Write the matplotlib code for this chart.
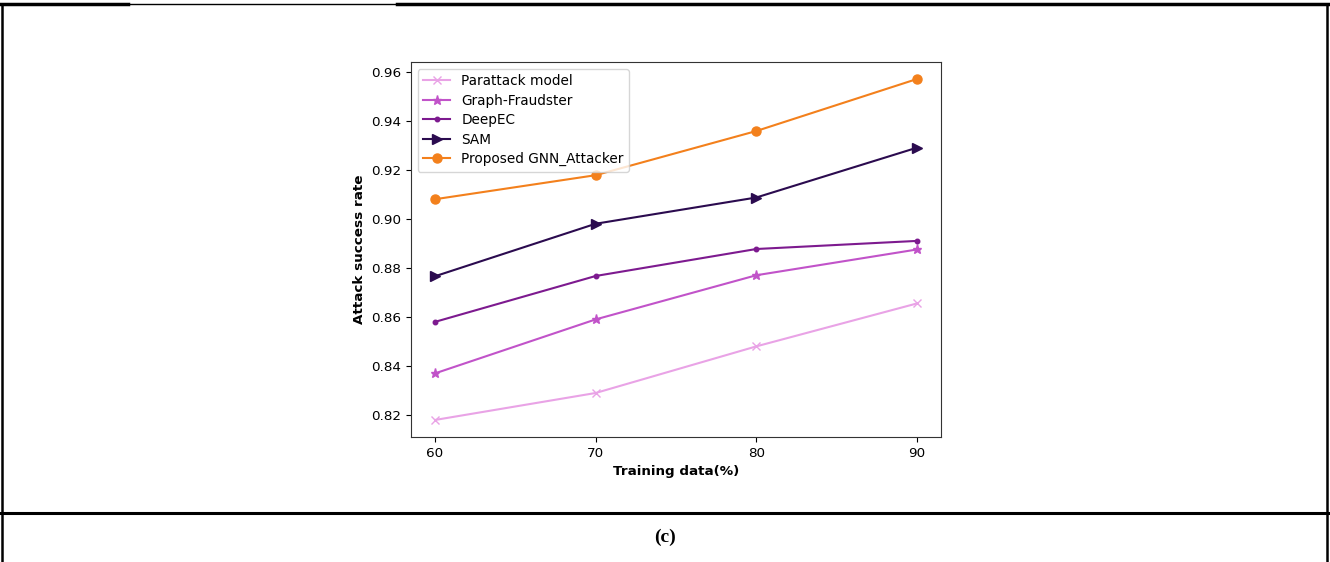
import matplotlib
matplotlib.use("Agg")
import matplotlib.pyplot as plt
from matplotlib.lines import Line2D

training = [60, 70, 80, 90]
parattack = [0.818, 0.829, 0.848, 0.8655]
graph_fraudster = [0.837, 0.859, 0.877, 0.8875]
deepec = [0.858, 0.8767, 0.8877, 0.891]
sam = [0.8766, 0.898, 0.9087, 0.929]
proposed = [0.908, 0.9178, 0.9358, 0.957]

fig = plt.figure(figsize=(13.3, 5.62), dpi=100)
ax = fig.add_axes([0.309, 0.2224, 0.3985, 0.6673])

ax.plot(training, parattack, marker="x", color="#e9a3e6", lw=1.5, ms=6, label="Parattack model")
ax.plot(training, graph_fraudster, marker="*", color="#c153c9", lw=1.5, ms=6.5, label="Graph-Fraudster")
ax.plot(training, deepec, marker=".", color="#7d1a8f", lw=1.5, ms=6.5, label="DeepEC")
ax.plot(training, sam, marker=">", color="#2b0b4f", lw=1.5, ms=7, label="SAM")
ax.plot(training, proposed, marker="o", color="#f3801c", lw=1.5, ms=6.5, label="Proposed GNN_Attacker")

ax.set_xticks(training)
ax.tick_params(labelsize=9.7)
for s in ax.spines.values():
    s.set_color("#333333")
ax.set_xlabel("Training data(%)", fontweight="bold", fontsize=9.7)
ax.set_ylabel("Attack success rate", fontweight="bold", fontsize=9.7)
ax.legend(loc="upper left", fontsize=9.8, labelspacing=0.4)

# table borders around the figure cell
k = dict(color="black", transform=fig.transFigure)
fig.add_artist(Line2D([0, 1], [1 - 4 / 562] * 2, lw=1, **k))
fig.add_artist(Line2D([0, 128 / 1330], [1 - 4 / 562] * 2, lw=2.5, **k))
fig.add_artist(Line2D([397 / 1330, 1], [1 - 4 / 562] * 2, lw=2.5, **k))
fig.add_artist(Line2D([2 / 1330] * 2, [0, 1 - 4 / 562], lw=1.8, **k))
fig.add_artist(Line2D([1327 / 1330] * 2, [0, 1 - 4 / 562], lw=1.8, **k))
fig.add_artist(Line2D([0, 1], [1 - 513 / 562] * 2, lw=2.2, **k))
fig.text(0.5, 1 - 537 / 562, "(c)", ha="center", va="center", fontsize=14,
         fontweight="bold", family="Liberation Serif")

fig.savefig("out.png", dpi=100)
